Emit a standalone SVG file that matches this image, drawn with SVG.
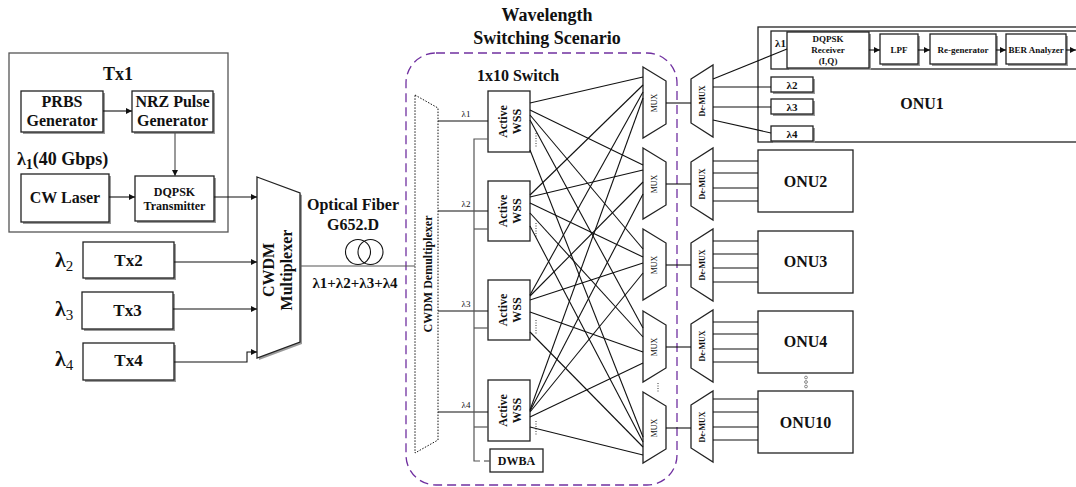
<svg xmlns="http://www.w3.org/2000/svg" width="1076" height="487" viewBox="0 0 1076 487">
  <defs>
    <marker id="ah" viewBox="0 0 8 8" refX="8" refY="4" markerWidth="7" markerHeight="6" orient="auto" markerUnits="userSpaceOnUse">
      <path d="M0,0 L8,4 L0,8 z" fill="#111"/>
    </marker>
    <style>
      .bx { fill: #fff; stroke: #222; stroke-width: 1.3; }
      .sh { fill: #9a9a9a; stroke: none; }
      .t { font-family: "Liberation Serif", "Times New Roman", serif; font-weight: bold; text-anchor: middle; fill: #111; }
      .r { font-family: "Liberation Serif", "Times New Roman", serif; text-anchor: middle; fill: #111; }
      .s { text-anchor: start; }
      .ln { stroke: #111; stroke-width: 1.1; fill: none; }
      .gl { stroke: #555; stroke-width: 1.2; fill: none; }
      .ar { marker-end: url(#ah); }
      .dots { stroke: #333; stroke-width: 1; stroke-dasharray: 1 1.5; fill: none; }
    </style>
  </defs>

  <!-- transmitter 1 with its internal chain -->
  <g id="tx1">
    <rect x="9" y="53" width="219" height="179" fill="#fff" stroke="#555" stroke-width="1.3"/>
    <text class="t" x="118" y="80" font-size="18">Tx1</text>
    <rect class="sh" x="23" y="93" width="82" height="41"/>
    <rect class="bx" x="21" y="91" width="82" height="41"/>
    <text class="t" x="62" y="107" font-size="16">PRBS</text>
    <text class="t" x="62" y="126" font-size="16">Generator</text>
    <rect class="sh" x="134" y="93" width="81" height="41"/>
    <rect class="bx" x="132" y="91" width="81" height="41"/>
    <text class="t" x="172.5" y="107" font-size="16">NRZ Pulse</text>
    <text class="t" x="172.5" y="126" font-size="16">Generator</text>
    <text class="t s" x="17" y="165" font-size="18">λ<tspan font-size="14" dy="4">1</tspan><tspan dy="-4">(40 Gbps)</tspan></text>
    <rect class="sh" x="23" y="176" width="88" height="48"/>
    <rect class="bx" x="21" y="174" width="88" height="48"/>
    <text class="t" x="65" y="203" font-size="16">CW Laser</text>
    <rect class="sh" x="137" y="178" width="79" height="45"/>
    <rect class="bx" x="135" y="176" width="79" height="45"/>
    <text class="t" x="174.5" y="196" font-size="12">DQPSK</text>
    <text class="t" x="174.5" y="210" font-size="12">Transmitter</text>
  </g>

  <!-- transmitters 2 to 4 -->
  <g id="tx2">
    <text class="t s" x="55" y="267" font-size="22">λ<tspan font-size="15" font-weight="normal" dy="4">2</tspan></text>
    <rect class="sh" x="85" y="244" width="91" height="36"/>
    <rect class="bx" x="83" y="242" width="91" height="36"/>
    <text class="t" x="128.5" y="266" font-size="17">Tx2</text>
  </g>
  <g id="tx3">
    <text class="t s" x="55" y="316" font-size="22">λ<tspan font-size="15" font-weight="normal" dy="4">3</tspan></text>
    <rect class="sh" x="84" y="294" width="91" height="37"/>
    <rect class="bx" x="82" y="292" width="91" height="37"/>
    <text class="t" x="127.5" y="316" font-size="17">Tx3</text>
  </g>
  <g id="tx4">
    <text class="t s" x="55" y="366" font-size="22">λ<tspan font-size="15" font-weight="normal" dy="4">4</tspan></text>
    <rect class="sh" x="85" y="345" width="91" height="37"/>
    <rect class="bx" x="83" y="343" width="91" height="37"/>
    <text class="t" x="128.5" y="366" font-size="17">Tx4</text>
  </g>

  <!-- CWDM multiplexer -->
  <g id="cwdm-mux">
    <polygon class="sh" points="259,179 302,195 302,344 259,360"/>
    <polygon class="bx" points="257,177 300,193 300,342 257,358"/>
    <g transform="translate(278,270) rotate(-90)">
      <text class="t" x="0" y="-4" font-size="16">CWDM</text>
      <text class="t" x="0" y="14" font-size="16">Multiplexer</text>
    </g>
  </g>

  <!-- optical fiber span -->
  <g id="fiber">
    <text class="t" x="353" y="210" font-size="16">Optical Fiber</text>
    <text class="t" x="353" y="230" font-size="16">G652.D</text>
    <circle cx="358" cy="252" r="12.5" fill="none" stroke="#111" stroke-width="1.1"/>
    <circle cx="370.5" cy="252" r="12.5" fill="none" stroke="#111" stroke-width="1.1"/>
    <text class="t" x="355" y="288" font-size="15">λ1+λ2+λ3+λ4</text>
  </g>

  <!-- switching scenario frame -->
  <g id="scenario">
    <text class="t" x="547" y="21" font-size="18">Wavelength</text>
    <text class="t" x="547" y="44" font-size="18">Switching Scenario</text>
    <rect x="406" y="53" width="271" height="432" rx="30" fill="none" stroke="#7030A0" stroke-width="1.3" stroke-dasharray="9 5"/>
    <text class="t" x="518" y="81" font-size="16">1x10 Switch</text>
  </g>

  <!-- CWDM demultiplexer -->
  <g id="cwdm-demux">
    <polygon points="415,95 438,108 438,440 415,453" fill="#fff" stroke="#111" stroke-width="1" stroke-dasharray="1.5 1.5"/>
    <text class="t" transform="translate(432,274) rotate(-90)" font-size="12">CWDM Demultiplexer</text>
  </g>

  <!-- active WSS units -->
  <g id="wss1">
    <text class="r" x="466" y="117" font-size="9">λ1</text>
    <rect class="bx" x="488" y="91" width="42" height="61"/>
    <g transform="translate(509,121.5) rotate(-90)">
      <text class="t" x="0" y="-2" font-size="12">Active</text>
      <text class="t" x="0" y="12" font-size="12">WSS</text>
    </g>
    <line class="dots" x1="536" y1="133" x2="536" y2="147"/>
  </g>
  <g id="wss2">
    <text class="r" x="466" y="207" font-size="9">λ2</text>
    <rect class="bx" x="488" y="181" width="42" height="60"/>
    <g transform="translate(509,211) rotate(-90)">
      <text class="t" x="0" y="-2" font-size="12">Active</text>
      <text class="t" x="0" y="12" font-size="12">WSS</text>
    </g>
    <line class="dots" x1="536" y1="223" x2="536" y2="237"/>
  </g>
  <g id="wss3">
    <text class="r" x="466" y="307" font-size="9">λ3</text>
    <rect class="bx" x="488" y="280" width="42" height="60"/>
    <g transform="translate(509,310) rotate(-90)">
      <text class="t" x="0" y="-2" font-size="12">Active</text>
      <text class="t" x="0" y="12" font-size="12">WSS</text>
    </g>
    <line class="dots" x1="536" y1="320" x2="536" y2="334"/>
  </g>
  <g id="wss4">
    <text class="r" x="466" y="408" font-size="9">λ4</text>
    <rect class="bx" x="488" y="380" width="42" height="61"/>
    <g transform="translate(509,410.5) rotate(-90)">
      <text class="t" x="0" y="-2" font-size="12">Active</text>
      <text class="t" x="0" y="12" font-size="12">WSS</text>
    </g>
    <line class="dots" x1="536" y1="421" x2="536" y2="435"/>
  </g>
  <g id="dwba">
    <rect class="bx" x="490" y="449" width="53" height="23"/>
    <text class="t" x="516.5" y="465" font-size="12">DWBA</text>
  </g>

  <!-- MUX stages -->
  <g id="mux1">
    <polygon class="bx" points="643,67 666,81 666,124 643,138"/>
    <text class="r" transform="translate(657,103) rotate(-90)" font-size="8">MUX</text>
  </g>
  <g id="mux2">
    <polygon class="bx" points="643,148 666,162 666,205 643,219"/>
    <text class="r" transform="translate(657,184) rotate(-90)" font-size="8">MUX</text>
  </g>
  <g id="mux3">
    <polygon class="bx" points="643,229 666,243 666,286 643,300"/>
    <text class="r" transform="translate(657,265) rotate(-90)" font-size="8">MUX</text>
  </g>
  <g id="mux4">
    <polygon class="bx" points="643,311 666,325 666,368 643,382"/>
    <text class="r" transform="translate(657,347) rotate(-90)" font-size="8">MUX</text>
  </g>
  <g id="mux5">
    <polygon class="bx" points="643,392 666,406 666,449 643,463"/>
    <text class="r" transform="translate(657,428) rotate(-90)" font-size="8">MUX</text>
  </g>
  <line class="dots" x1="658" y1="383" x2="658" y2="393"/>

  <!-- De-MUX stages -->
  <g id="demux1">
    <polygon class="bx" points="691,79 713,65 713,137 691,123"/>
    <text class="t" transform="translate(705,101) rotate(-90)" font-size="8">De-MUX</text>
  </g>
  <g id="demux2">
    <polygon class="bx" points="691,162 713,148 713,220 691,206"/>
    <text class="t" transform="translate(705,184) rotate(-90)" font-size="8">De-MUX</text>
  </g>
  <g id="demux3">
    <polygon class="bx" points="691,243 713,229 713,301 691,287"/>
    <text class="t" transform="translate(705,265) rotate(-90)" font-size="8">De-MUX</text>
  </g>
  <g id="demux4">
    <polygon class="bx" points="691,324 713,310 713,382 691,368"/>
    <text class="t" transform="translate(705,346) rotate(-90)" font-size="8">De-MUX</text>
  </g>
  <g id="demux5">
    <polygon class="bx" points="691,405 713,391 713,462 691,448"/>
    <text class="t" transform="translate(705,427) rotate(-90)" font-size="8">De-MUX</text>
  </g>

  <!-- ONU 1 with its receiver chain -->
  <g id="onu1">
    <rect class="bx" x="758" y="27" width="330" height="115"/>
    <rect class="bx" x="771" y="31" width="320" height="38"/>
    <text class="t s" x="775" y="47" font-size="11">λ1</text>
    <rect class="sh" x="789" y="34" width="82" height="36"/>
    <rect class="bx" x="787" y="32" width="82" height="36"/>
    <text class="t" x="828" y="42" font-size="9">DQPSK</text>
    <text class="t" x="828" y="53" font-size="9">Receiver</text>
    <text class="t" x="828" y="64" font-size="9">(I,Q)</text>
    <rect class="sh" x="882" y="36" width="38" height="30"/>
    <rect class="bx" x="880" y="34" width="38" height="30"/>
    <text class="t" x="899" y="53" font-size="9">LPF</text>
    <rect class="sh" x="932" y="36" width="66" height="30"/>
    <rect class="bx" x="930" y="34" width="66" height="30"/>
    <text class="t" x="963" y="53" font-size="9">Re-generator</text>
    <rect class="sh" x="1008" y="36" width="60" height="30"/>
    <rect class="bx" x="1006" y="34" width="60" height="30"/>
    <text class="t" x="1036" y="53" font-size="9">BER Analyzer</text>
    <rect class="sh" x="773" y="79" width="42" height="15"/>
    <rect class="bx" x="771" y="77" width="42" height="15"/>
    <text class="t" x="792" y="89" font-size="11">λ2</text>
    <rect class="sh" x="773" y="101" width="42" height="15"/>
    <rect class="bx" x="771" y="99" width="42" height="15"/>
    <text class="t" x="792" y="111" font-size="11">λ3</text>
    <rect class="sh" x="773" y="128" width="42" height="15"/>
    <rect class="bx" x="771" y="126" width="42" height="15"/>
    <text class="t" x="792" y="138" font-size="11">λ4</text>
    <text class="t" x="922" y="109" font-size="16">ONU1</text>
  </g>

  <g id="onu2">
    <rect class="bx" x="758" y="150" width="95" height="62"/>
    <text class="t" x="805.5" y="187" font-size="16">ONU2</text>
  </g>
  <g id="onu3">
    <rect class="bx" x="758" y="231" width="95" height="62"/>
    <text class="t" x="805.5" y="267" font-size="16">ONU3</text>
  </g>
  <g id="onu4">
    <rect class="bx" x="758" y="311" width="95" height="62"/>
    <text class="t" x="805.5" y="347" font-size="16">ONU4</text>
  </g>
  <g id="onu-more" fill="none" stroke="#777" stroke-width="0.9">
    <circle cx="806" cy="377.5" r="1.4"/>
    <circle cx="806" cy="382" r="1.4"/>
    <circle cx="806" cy="386.5" r="1.4"/>
  </g>
  <g id="onu10">
    <rect class="bx" x="758" y="391" width="95" height="62"/>
    <text class="t" x="805.5" y="428" font-size="16">ONU10</text>
  </g>

  <!-- connectors -->
  <g id="connectors">
    <!-- Tx1 internal -->
    <line class="ln ar" x1="103" y1="111" x2="132" y2="111"/>
    <line class="gl ar" x1="175" y1="132" x2="175" y2="176"/>
    <line class="ln ar" x1="109" y1="197" x2="135" y2="197"/>
    <!-- transmitters into multiplexer -->
    <line class="ln ar" x1="214" y1="197" x2="257" y2="197"/>
    <line class="ln ar" x1="174" y1="262" x2="257" y2="262"/>
    <line class="ln ar" x1="173" y1="309" x2="257" y2="309"/>
    <polyline class="ln ar" points="174,362 247,362 247,352 257,352"/>
    <!-- fiber trunk -->
    <line class="gl" x1="300" y1="266" x2="415" y2="266"/>
    <!-- demux to WSS -->
    <line class="ln" x1="438" y1="121" x2="488" y2="121"/>
    <line class="ln" x1="438" y1="211" x2="488" y2="211"/>
    <line class="ln" x1="438" y1="311" x2="488" y2="311"/>
    <line class="ln" x1="438" y1="412" x2="488" y2="412"/>
    <!-- DWBA control bus -->
    <polyline class="gl" points="488,139 474,139 474,461 480,461"/>
    <line class="gl" x1="474" y1="229" x2="488" y2="229"/>
    <line class="gl" x1="474" y1="328" x2="488" y2="328"/>
    <line class="gl" x1="474" y1="427" x2="488" y2="427"/>
    <line class="gl" x1="484" y1="461" x2="490" y2="461"/>
    <!-- WSS to MUX crossbar -->
    <g class="ln">
      <line x1="530" y1="103" x2="643" y2="77"/>
      <line x1="530" y1="110" x2="643" y2="165"/>
      <line x1="530" y1="115" x2="643" y2="249"/>
      <line x1="530" y1="120" x2="643" y2="328"/>
      <line x1="530" y1="150" x2="643" y2="437"/>
      <line x1="530" y1="195" x2="643" y2="85"/>
      <line x1="530" y1="197" x2="643" y2="170"/>
      <line x1="530" y1="203" x2="643" y2="257"/>
      <line x1="530" y1="213" x2="643" y2="337"/>
      <line x1="530" y1="226" x2="643" y2="442"/>
      <line x1="530" y1="295" x2="643" y2="92"/>
      <line x1="530" y1="296" x2="643" y2="182"/>
      <line x1="530" y1="300" x2="643" y2="263"/>
      <line x1="530" y1="312" x2="643" y2="352"/>
      <line x1="530" y1="332" x2="643" y2="447"/>
      <line x1="530" y1="410" x2="643" y2="98"/>
      <line x1="530" y1="411" x2="643" y2="194"/>
      <line x1="530" y1="412" x2="643" y2="273"/>
      <line x1="530" y1="417" x2="643" y2="363"/>
      <line x1="530" y1="427" x2="643" y2="455"/>
    </g>
    <!-- MUX to De-MUX -->
    <line class="ln" x1="666" y1="103" x2="691" y2="103"/>
    <line class="ln" x1="666" y1="184" x2="691" y2="184"/>
    <line class="ln" x1="666" y1="265" x2="691" y2="265"/>
    <line class="ln" x1="666" y1="347" x2="691" y2="347"/>
    <line class="ln" x1="666" y1="428" x2="691" y2="428"/>
    <!-- De-MUX 1 to ONU1 -->
    <line class="ln" x1="713" y1="79" x2="787" y2="49"/>
    <line class="ln" x1="713" y1="87" x2="771" y2="87"/>
    <line class="ln" x1="713" y1="107" x2="771" y2="107"/>
    <line class="ln" x1="713" y1="120" x2="771" y2="133"/>
    <!-- ONU1 receiver chain -->
    <line class="ln ar" x1="869" y1="50" x2="880" y2="50"/>
    <line class="ln ar" x1="918" y1="50" x2="930" y2="50"/>
    <line class="ln ar" x1="996" y1="50" x2="1006" y2="50"/>
    <line class="ln ar" x1="1066" y1="50" x2="1076" y2="50"/>
    <!-- De-MUX 2..10 to ONUs -->
    <g class="ln">
      <line x1="713" y1="161" x2="758" y2="161"/>
      <line x1="713" y1="173" x2="758" y2="173"/>
      <line x1="713" y1="188" x2="758" y2="188"/>
      <line x1="713" y1="201" x2="758" y2="201"/>
      <line x1="713" y1="241" x2="758" y2="241"/>
      <line x1="713" y1="254" x2="758" y2="254"/>
      <line x1="713" y1="268" x2="758" y2="268"/>
      <line x1="713" y1="282" x2="758" y2="282"/>
      <line x1="713" y1="322" x2="758" y2="322"/>
      <line x1="713" y1="334" x2="758" y2="334"/>
      <line x1="713" y1="349" x2="758" y2="349"/>
      <line x1="713" y1="362" x2="758" y2="362"/>
      <line x1="713" y1="399" x2="758" y2="399"/>
      <line x1="713" y1="412" x2="758" y2="412"/>
      <line x1="713" y1="427" x2="758" y2="427"/>
      <line x1="713" y1="440" x2="758" y2="440"/>
    </g>
  </g>
</svg>
